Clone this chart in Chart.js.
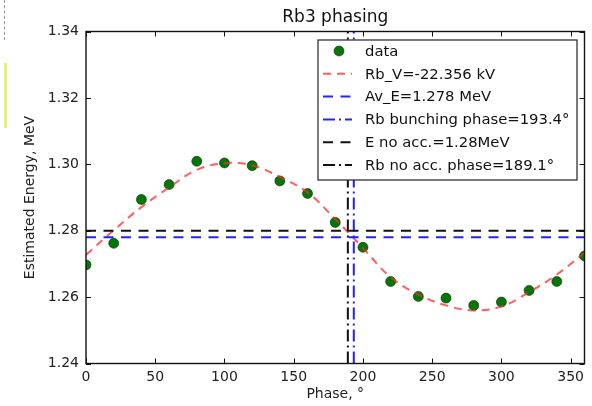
<!DOCTYPE html>
<html lang="en">

<head>
  <meta charset="UTF-8">
  <title>Rb3 phasing</title>
  <script src="https://cdn.jsdelivr.net/npm/chart.js"></script>
  <style>
    body { margin: 0; background: #fff; }
    .wrap { position: relative; width: 592px; height: 406px; }
    .mark1 { position: absolute; left: 4px; top: 0; height: 40px; border-left: 1px dashed #999; }
    .mark2 { position: absolute; left: 4px; top: 63px; width: 3px; height: 65px; background: #eeee77; }
  </style>
</head>

<body>
  <div class="wrap">
    <canvas id="chart" width="592" height="406"></canvas>
    <div class="mark1"></div>
    <div class="mark2"></div>
  </div>

  <script>
    // measured points
    const phase = [0, 20, 40, 60, 80, 100, 120, 140, 160, 180, 200, 220, 240, 260, 280, 300, 320, 340, 360];
    const energy = [1.2697, 1.2762, 1.2894, 1.2939, 1.3009, 1.3004, 1.2996, 1.2950, 1.2912, 1.2825, 1.2750,
      1.2647, 1.2602, 1.2597, 1.2575, 1.2585, 1.2620, 1.2647, 1.2724];

    // fitted curve (Rb_V=-22.356 kV)
    const fitPhase = [0, 20, 40, 60, 80, 100, 120, 140, 160, 180, 200, 220, 240, 260, 280, 300, 320, 340, 360];
    const fitEnergy = [1.2727, 1.2801, 1.2871, 1.2930, 1.2983, 1.3003, 1.2997, 1.2962, 1.2915, 1.2835, 1.2748,
      1.2660, 1.2608, 1.2575, 1.2560, 1.2572, 1.2615, 1.2668, 1.2733];

    // reference levels
    const avE = 1.278;
    const eNoAcc = 1.28;
    const bunchPhase = 193.4;
    const noAccPhase = 189.1;

    const xTicks = [0, 50, 100, 150, 200, 250, 300, 350];
    const yTicks = [1.24, 1.26, 1.28, 1.30, 1.32, 1.34];
    const xRange = [0, 360];
    const yRange = [1.24, 1.34];

    const legendLabels = ['data', 'Rb_V=-22.356 kV', 'Av_E=1.278 MeV', 'Rb bunching phase=193.4°',
      'E no acc.=1.28MeV', 'Rb no acc. phase=189.1°'];

    const FONT = '"DejaVu Sans", sans-serif';
    const GREEN = '#087508';
    const GREEN_EDGE = 'rgba(0,40,0,0.7)';
    const RED = 'rgba(255,40,40,0.75)';
    const BLUE = '#2222ff';
    const BLACK = '#111';
    const DASH = [10, 7.5];
    const DASHDOT = [12, 4, 2, 4];

    // style per legend entry (0 = marker)
    const styles = [
      null,
      { color: RED, dash: [8, 6] },
      { color: BLUE, dash: DASH },
      { color: BLUE, dash: DASHDOT },
      { color: BLACK, dash: DASH },
      { color: BLACK, dash: DASHDOT }
    ];

    // dashes drawn segment by segment
    function dashLine(ctx, x0, y0, x1, y1, pattern) {
      const len = Math.hypot(x1 - x0, y1 - y0);
      const ux = (x1 - x0) / len, uy = (y1 - y0) / len;
      let pos = 0, i = 0;
      ctx.setLineDash([]);
      ctx.beginPath();
      while (pos < len) {
        const seg = pattern[i % pattern.length];
        if (i % 2 === 0) {
          const end = Math.min(pos + seg, len);
          ctx.moveTo(x0 + ux * pos, y0 + uy * pos);
          ctx.lineTo(x0 + ux * end, y0 + uy * end);
        }
        pos += seg;
        i++;
      }
      ctx.stroke();
    }

    const decorations = {
      id: 'decorations',
      afterDatasetsDraw(chart) {
        const ctx = chart.ctx;
        const a = chart.chartArea;
        const xs = chart.scales.x, ys = chart.scales.y;

        const refLines = [
          ['h', avE, styles[2]],
          ['v', bunchPhase, styles[3]],
          ['h', eNoAcc, styles[4]],
          ['v', noAccPhase, styles[5]]
        ];
        ctx.save();
        ctx.lineCap = 'butt';
        ctx.lineWidth = 2;
        refLines.forEach(([dir, v, st]) => {
          ctx.strokeStyle = st.color;
          if (dir === 'h') {
            const y = ys.getPixelForValue(v);
            dashLine(ctx, a.left, y, a.right, y, st.dash);
          } else {
            const x = xs.getPixelForValue(v);
            dashLine(ctx, x, a.bottom, x, a.top, st.dash);
          }
        });
        ctx.restore();

        // legend box
        const boxL = 318, boxT = 40, boxR = 577, boxB = 180;
        ctx.save();
        ctx.fillStyle = '#fff';
        ctx.fillRect(boxL, boxT, boxR - boxL, boxB - boxT);
        ctx.strokeStyle = '#222';
        ctx.lineWidth = 1.2;
        ctx.strokeRect(boxL, boxT, boxR - boxL, boxB - boxT);
        ctx.font = '14.8px ' + FONT;
        ctx.textBaseline = 'middle';
        ctx.textAlign = 'left';
        legendLabels.forEach((label, i) => {
          const y = 51 + i * 22.8;
          if (i === 0) {
            ctx.beginPath();
            ctx.arc(339, y, 5, 0, Math.PI * 2);
            ctx.fillStyle = GREEN;
            ctx.fill();
            ctx.strokeStyle = GREEN_EDGE;
            ctx.lineWidth = 0.8;
            ctx.stroke();
          } else {
            ctx.strokeStyle = styles[i].color;
            ctx.lineWidth = 2;
            dashLine(ctx, 323, y, 352, y, styles[i].dash);
          }
          ctx.fillStyle = '#111';
          ctx.fillText(label, 365, y + 1);
        });
        ctx.restore();
      },
      afterDraw(chart) {
        const ctx = chart.ctx;
        const a = chart.chartArea;
        const xs = chart.scales.x, ys = chart.scales.y;
        ctx.save();
        ctx.setLineDash([]);
        ctx.strokeStyle = '#111';
        ctx.lineWidth = 1;
        ctx.beginPath();
        xTicks.forEach(v => {
          const x = Math.round(xs.getPixelForValue(v)) + 0.5;
          ctx.moveTo(x, a.bottom); ctx.lineTo(x, a.bottom - 5);
          ctx.moveTo(x, a.top); ctx.lineTo(x, a.top + 5);
        });
        yTicks.forEach(v => {
          const y = Math.round(ys.getPixelForValue(v)) + 0.5;
          ctx.moveTo(a.left, y); ctx.lineTo(a.left + 5, y);
          ctx.moveTo(a.right, y); ctx.lineTo(a.right - 5, y);
        });
        ctx.stroke();
        ctx.lineWidth = 1.4;
        ctx.strokeRect(a.left, a.top, a.right - a.left, a.bottom - a.top);
        ctx.fillStyle = '#111';
        ctx.font = '17px ' + FONT;
        ctx.textAlign = 'center';
        ctx.textBaseline = 'middle';
        ctx.fillText('Rb3 phasing', (a.left + a.right) / 2, 18);
        ctx.restore();
      }
    };

    new Chart(document.getElementById('chart'), {
      type: 'scatter',
      data: {
        // first dataset is drawn on top: fit line over the markers
        datasets: [{
          label: legendLabels[1],
          data: fitPhase.map((p, i) => ({ x: p, y: fitEnergy[i] })),
          showLine: true,
          tension: 0.4,
          pointRadius: 0,
          borderColor: RED,
          borderWidth: 2,
          borderDash: styles[1].dash
        }, {
          label: legendLabels[0],
          data: phase.map((p, i) => ({ x: p, y: energy[i] })),
          backgroundColor: GREEN,
          borderColor: GREEN_EDGE,
          borderWidth: 0.8,
          pointRadius: 5
        }]
      },
      options: {
        responsive: false,
        animation: false,
        layout: { padding: { top: 31.5, right: 7.5, left: 0, bottom: 0 } },
        plugins: {
          legend: { display: false },
          title: { display: false },
          tooltip: { enabled: false }
        },
        scales: {
          x: {
            type: 'linear',
            min: xRange[0],
            max: xRange[1],
            afterBuildTicks: s => { s.ticks = xTicks.map(v => ({ value: v })); },
            afterFit: s => { s.height = 42.5; },
            grid: { display: false, drawTicks: false },
            border: { display: false },
            ticks: { padding: 5, color: '#222', font: { family: FONT, size: 14 }, maxRotation: 0 },
            title: { display: true, text: 'Phase, °', color: '#222', font: { family: FONT, size: 14 }, padding: { top: 0, bottom: 3 } }
          },
          y: {
            type: 'linear',
            min: yRange[0],
            max: yRange[1],
            afterBuildTicks: s => { s.ticks = yTicks.map(v => ({ value: v })); },
            afterFit: s => { s.width = 86; },
            grid: { display: false, drawTicks: false },
            border: { display: false },
            ticks: { padding: 7, color: '#222', font: { family: FONT, size: 14 }, callback: v => v.toFixed(2) },
            title: { display: true, text: 'Estimated Energy, MeV', color: '#222', font: { family: FONT, size: 14 }, padding: { top: 22, bottom: 0 } }
          }
        }
      },
      plugins: [decorations]
    });
  </script>
</body>

</html>
